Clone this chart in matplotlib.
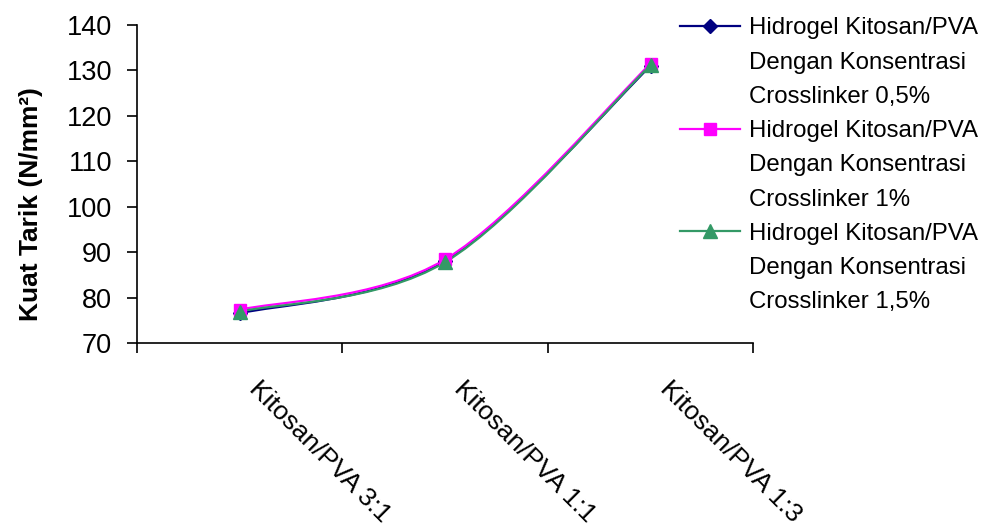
import matplotlib
matplotlib.use("Agg")
import matplotlib.pyplot as plt
from matplotlib.path import Path
from matplotlib.patches import PathPatch
from matplotlib.lines import Line2D
import numpy as np

plt.rcParams["font.family"] = ["Liberation Sans", "DejaVu Sans"]

categories = ["Kitosan/PVA 3:1", "Kitosan/PVA 1:1", "Kitosan/PVA 1:3"]
kuat_05 = [76.5, 88.1, 131.0]
kuat_10 = [77.3, 88.4, 131.5]
kuat_15 = [76.9, 87.8, 131.2]
series_labels = [
    ["Hidrogel Kitosan/PVA", "Dengan Konsentrasi", "Crosslinker 0,5%"],
    ["Hidrogel Kitosan/PVA", "Dengan Konsentrasi", "Crosslinker 1%"],
    ["Hidrogel Kitosan/PVA", "Dengan Konsentrasi", "Crosslinker 1,5%"],
]
y_ticks = [70, 80, 90, 100, 110, 120, 130, 140]

styles = [
    dict(color="#000080", marker="D", ms=7.5),
    dict(color="#FF00FF", marker="s", ms=8),
    dict(color="#339966", marker="^", ms=10),
]


def smooth_path(xs, ys):
    # Catmull-Rom style bezier segments, like spreadsheet "smoothed line"
    pts = np.column_stack([xs, ys]).astype(float)
    n = len(pts)
    verts = [pts[0]]
    codes = [Path.MOVETO]
    for i in range(n - 1):
        p0 = pts[max(i - 1, 0)]
        p1 = pts[i]
        p2 = pts[i + 1]
        p3 = pts[min(i + 2, n - 1)]
        c1 = p1 + (p2 - p0) / 6.0
        c2 = p2 - (p3 - p1) / 6.0
        verts += [c1, c2, p2]
        codes += [Path.CURVE4] * 3
    return Path(verts, codes)


fig = plt.figure(figsize=(9.83, 5.26), dpi=100)
ax = fig.add_axes([0.1394, 0.348, 0.627, 0.6045])

xs = np.arange(1, len(categories) + 1)
for vals, st in zip([kuat_05, kuat_10, kuat_15], styles):
    ax.add_patch(PathPatch(smooth_path(xs, vals), facecolor="none",
                           edgecolor=st["color"], lw=1.6, zorder=2))
    ax.plot(xs, vals, linestyle="none", marker=st["marker"], ms=st["ms"],
            color=st["color"], markeredgecolor=st["color"], zorder=3)

ax.set_xlim(0.5, len(categories) + 0.5)
ax.set_ylim(70, 140)
ax.set_yticks(y_ticks)
ax.set_xticks(np.arange(0.5, len(categories) + 1, 1.0))
ax.set_xticklabels([])
for sp in ["top", "right"]:
    ax.spines[sp].set_visible(False)
for sp in ["left", "bottom"]:
    ax.spines[sp].set_linewidth(1.2)
ax.tick_params(axis="y", direction="out", length=7, width=1.2, pad=11, labelsize=19.5)
ax.tick_params(axis="x", direction="out", length=7, width=1.2)

for x, lab in zip(xs, categories):
    ax.annotate(lab, xy=(x, 0), xycoords=("data", "axes fraction"),
                xytext=(15.5, -24), textcoords="offset points", fontsize=19,
                rotation=-45, ha="left", va="top", rotation_mode="anchor")

ax.set_ylabel("Kuat Tarik (N/mm²)", fontsize=19, fontweight="bold")
ax.yaxis.set_label_coords(-0.152, 0.437)

# legend: one handle per series, continuation lines get blank handles
handles, labels = [], []
for st, lines in zip(styles, series_labels):
    handles.append(Line2D([], [], color=st["color"], lw=1.6, marker=st["marker"],
                          ms=st["ms"], markeredgecolor=st["color"]))
    labels.append(lines[0])
    for extra in lines[1:]:
        handles.append(Line2D([], [], linestyle="none", marker="none"))
        labels.append(extra)
fig.legend(handles, labels, loc="upper left", bbox_to_anchor=(0.692, 0.967),
           frameon=False, fontsize=17.3, handlelength=2.5, handletextpad=0.35,
           labelspacing=0.51, borderpad=0, borderaxespad=0)

fig.savefig("out.png", dpi=100)
